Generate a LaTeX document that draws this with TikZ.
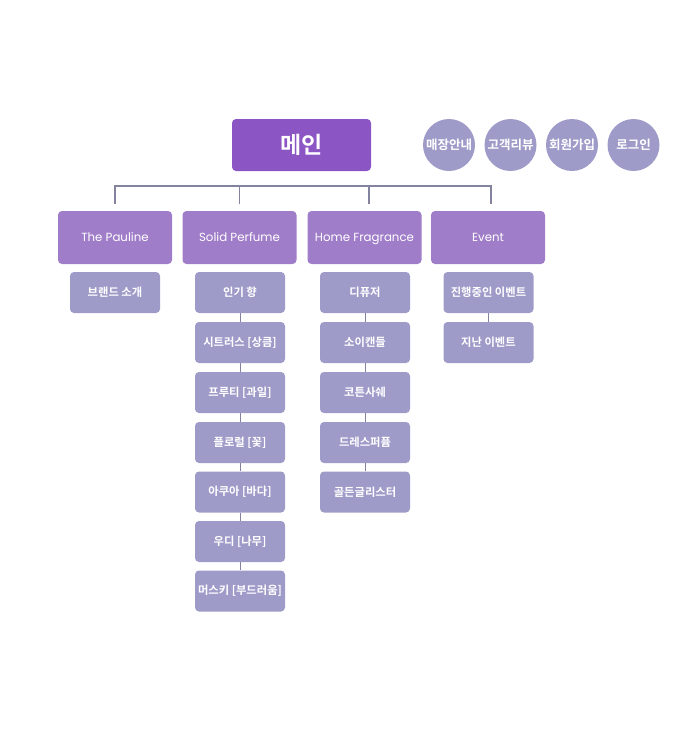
\documentclass[tikz,border=0pt]{standalone}
\usepackage{fontspec}
\setmainfont{Poppins}
\newfontfamily\kr{Noto Sans CJK KR}[BoldFont={* Bold}]
\definecolor{mainc}{HTML}{8B55C4}
\definecolor{catc}{HTML}{A07DC8}
\definecolor{subc}{HTML}{9F9BC9}
\definecolor{linec}{HTML}{8383A0}
\tikzset{
  mainbox/.style={rectangle, rounded corners=4pt, fill=mainc, text=white, minimum width=139pt, minimum height=52pt, inner sep=0pt, font=\kr\bfseries\fontsize{23}{24}\selectfont},
  circbox/.style={circle, fill=subc, text=white, minimum size=52pt, inner sep=0pt, font=\kr\bfseries\fontsize{12.5}{13}\selectfont},
  catbox/.style={rectangle, rounded corners=4pt, fill=catc, text=white, minimum width=114pt, minimum height=53pt, inner sep=0pt, text height=8.5pt, text depth=0pt, font=\fontsize{11.8}{13}\selectfont},
  subbox/.style={rectangle, rounded corners=4pt, fill=subc, text=white, minimum width=90pt, minimum height=41pt, inner sep=0pt, font=\kr\bfseries\fontsize{11.3}{12}\selectfont},
  conn/.style={draw=linec, line width=1.1pt},
}
\begin{document}
\begin{tikzpicture}[x=1pt,y=-1pt]
\useasboundingbox (0,0) rectangle (688,740);
\node[mainbox] (main) at (301.5,145) {메인};
\node[circbox] (c1) at (449,145) {매장안내};
\node[circbox] (c2) at (510.5,145) {고객리뷰};
\node[circbox] (c3) at (572,145) {회원가입};
\node[circbox] (c4) at (633.5,145) {로그인};

\node[catbox] (cat1) at (115,237.5) {The Pauline};
\node[catbox] (cat2) at (239.5,237.5) {Solid Perfume};
\node[catbox] (cat3) at (364.5,237.5) {Home Fragrance};
\node[catbox] (cat4) at (488,237.5) {Event};

\coordinate (b1) at (115,186);
\coordinate (b2) at (239.5,186);
\coordinate (b3) at (369,186);
\coordinate (b4) at (491,186);
\coordinate (t1) at (115,204);
\coordinate (t2) at (239.5,204);
\coordinate (t3) at (369,204);
\coordinate (t4) at (491,204);
\draw[conn] (t1) -- (b1) -- (b4) -- (t4);
\draw[conn] (b2) -- (t2);
\draw[conn] (b3) -- (t3);

\node[subbox] (p1) at (115,292.5) {브랜드 소개};

\node[subbox] (s1) at (240,292.5) {인기 향};
\node[subbox] (s2) at (240,342.5) {시트러스 [상큼]};
\node[subbox] (s3) at (240,392.5) {프루티 [과일]};
\node[subbox] (s4) at (240,442.5) {플로럴 [꽃]};
\node[subbox] (s5) at (240,492) {아쿠아 [바다]};
\node[subbox] (s6) at (240,541.5) {우디 [나무]};
\node[subbox] (s7) at (240,591) {머스키 [부드러움]};

\node[subbox] (h1) at (365,292.5) {디퓨저};
\node[subbox] (h2) at (365,342.5) {소이캔들};
\node[subbox] (h3) at (365,392.5) {코튼사쉐};
\node[subbox] (h4) at (365,442.5) {드레스퍼퓸};
\node[subbox] (h5) at (365,492) {골든글리스터};

\node[subbox] (e1) at (488.5,292.5) {진행중인 이벤트};
\node[subbox] (e2) at (488.5,342.5) {지난 이벤트};

\foreach \a/\b in {s1/s2,s2/s3,s3/s4,s4/s5,s5/s6,s6/s7,h1/h2,h2/h3,h3/h4,h4/h5,e1/e2}
  \draw[conn, line width=0.9pt] (\a.south) -- (\b.north);
\end{tikzpicture}
\end{document}
